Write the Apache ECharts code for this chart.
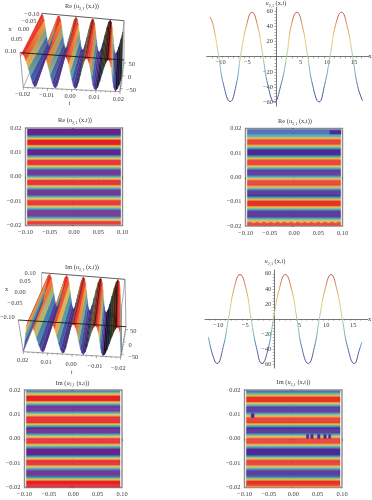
<!DOCTYPE html>
<html>
<head>
<meta charset="utf-8">
<style>
html,body{margin:0;padding:0;background:#fff}
#main{width:372px;height:500px;filter:blur(0.35px)}
</style>
<script src="https://cdn.jsdelivr.net/npm/echarts@6/dist/echarts.min.js"></script>
</head>
<body>
<div id="main"></div>
<script>
// line curves
var reLineX = [-12.4,-11.8,-10.8,-9.8,-8.6,-7.5,-6.6,-5.5,-4.5,-3.5,-2.5,-1.5,-0.3,0.9,2,2.9,3.94,4.9,5.9,6.9,8.1,9.1,10.2,11.2,12.3,13.3,14.4,15.3,16.25];
var reLineU = [52.5,42,3,-38,-59,-38,3,42,58.5,42,3,-38,-59.5,-38,0,42,58.5,42,3,-38,-59.5,-38,3,42,58.5,42,0,-38,-58];
var imLineX = [-12.2,-11.4,-10.6,-9.5,-8.5,-7.4,-6.36,-5.3,-4.3,-3.3,-2.3,-1.1,-0.1,1,2.04,3.1,4.2,5.1,6.3,7.4,8.4,9.5,10.5,11.5,12.6,13.6,14.8,15.8,16.2];
var imLineU = [-24,-48,-59,-38,0,42,59,42,0,-38,-59,-38,3,42,59,42,0,-38,-59,-38,3,42,59,42,0,-38,-59,-40,-31];
var lineXLabels = [-10,-5,5,10,15];
var lineYLabels = [-60,-40,-20,20,40,60];

// contour stripes top to bottom, 0 red .. 6 purple
var contourRe1 = [6,6,6,6,6,6,5,4,3,2,1,0,0,0,0,0,1,2,3,4,5,6,6,6,6,6,5,4,3,2,1,0,0,0,0,0,1,2,3,4,5,6,6,6,6,6,5,4,3,2,1,0,0,0,0,0,1,2,3,4,5,6,6,6,6,6,5,4,3,2,1,0,0,0,0,0,1,2,3,4,5,6,6,6,6,6,6,5,4,3,2,1,0,0,0];
var contourRe2 = [5,5,5,5,5,4,4,3,2,1,0,0,0,0,0,1,2,3,4,5,6,6,6,6,6,5,4,3,2,1,0,0,0,0,0,1,2,3,4,5,6,6,6,6,6,5,4,3,2,1,0,0,0,0,0,1,2,3,4,5,6,6,6,6,6,5,4,3,2,1,0,0,0,0,0,1,2,3,4,5,6,6,6,6,6,6,5,4,3,2,1,0,0,0];
var contourIm1 = [5,4,3,2,1,0,0,0,0,0,1,2,3,4,5,6,6,6,6,6,5,4,3,2,1,0,0,0,0,0,0,1,2,3,4,5,6,6,6,6,6,5,4,3,2,1,0,0,0,0,0,1,2,3,4,5,6,6,6,6,6,6,5,4,3,2,1,0,0,0,0,0,1,2,3,4,5,6,6,6,6,6,5,4,3,2,1,0,0,0,0,0,0];
var contourIm2 = [5,5,4,3,2,1,0,0,0,0,0,1,2,3,4,5,6,6,6,6,6,5,4,3,2,1,0,0,0,0,0,1,2,3,4,5,6,6,6,6,6,5,4,3,2,1,0,0,0,0,0,1,2,3,4,5,6,6,6,6,6,6,5,4,3,2,1,0,0,0,0,0,1,2,3,4,5,6,6,6,6,6,5,4,3,2,1,0,0,0,0,0,1];
// odd patches inside the contours: x0, x1, t0, t1, level
var patchesRe2 = [[0.074,0.097,0.0192,0.0177,6],[-0.086,-0.08,-0.0176,-0.0187,2],[-0.072,-0.066,-0.0176,-0.0187,2],[-0.058,-0.052,-0.0176,-0.0187,2],[-0.044,-0.038,-0.0176,-0.0187,2],[-0.03,-0.024,-0.0176,-0.0187,2],[-0.016,-0.01,-0.0176,-0.0187,2],[-0.002,0.004,-0.0176,-0.0187,2],[0.012,0.018,-0.0176,-0.0187,2],[0.026,0.032,-0.0176,-0.0187,2],[0.04,0.046,-0.0176,-0.0187,2],[0.054,0.06,-0.0176,-0.0187,2],[0.068,0.074,-0.0176,-0.0187,2],[0.082,0.088,-0.0176,-0.0187,2]];
var patchesIm2 = [[-0.0865,-0.08,0.01035,0.00865,6],[0.027,0.032,0.0018,0.0001,6],[0.0355,0.041,0.0018,0.0001,6],[0.0496,0.055,0.0018,0.0001,6],[0.0624,0.068,0.0018,0.0001,6],[0.0723,0.077,0.0018,0.0001,6]];

// 3d surfaces: u along the back and the front edge, rows left to right
var surfReBack = [59,54,36,9,-20,-45,-58,-55,-38,-12,18,43,57,57,43,18,-12,-38,-55,-59,-50,-29,0,29,50,59,53,34,6,-23,-47,-58,-54,-36,-9,20,45,58,56,41,15,-15,-41,-56,-59,-49,-26,3,31,52,59,52,31,3,-26,-49,-59,-53,-34,-6,22];
var surfReFront = [48,59,54,36,9,-20,-45,-58,-55,-38,-12,18,43,57,57,43,18,-12,-38,-55,-59,-50,-29,0,29,50,59,53,34,6,-23,-47,-58,-54,-36,-9,20,45,58,56,41,15,-15,-41,-56,-59,-49,-26,3,31,52,59,52,31,3,-26,-49,-59,-53,-34,-6];
var surfImBack = [-56,-41,-15,15,41,56,58,45,20,-9,-36,-54,-59,-49,-26,3,31,52,59,52,31,3,-26,-49,-59,-53,-34,-6,23,47,58,54,36,9,-20,-45,-58,-55,-38,-12,18,43,57,57,43,18,-12,-38,-55,-59,-50,-29,0,29,50,59,53,34,6,-23,-47];
var surfImFront = [-58,-45,-20,9,36,54,59,48,26,-3,-31,-52,-59,-52,-31,-3,26,48,59,54,36,9,-20,-45,-58,-56,-41,-15,15,41,56,58,45,20,-9,-36,-54,-59,-49,-26,3,31,52,59,52,31,3,-26,-49,-59,-54,-36,-9,20,45,58,56,41,15,-15,-41];

var chart3dLabelsX1 = ['−0.10','−0.05','0.00','0.05','0.10'];
var chart3dLabelsX2 = ['0.10','0.05','0.00','−0.05','−0.10'];
var chart3dLabelsT1 = ['−0.02','−0.01','0.00','0.01','0.02'];
var chart3dLabelsT2 = ['0.02','0.01','0.00','−0.01','−0.02'];
var chart3dLabelsU = ['50','0','−50'];

var contourColorsLeft = ['#e5222a','#f08a35','#dcc455','#84b97c','#3f9fb4','#3d62ad','#66268c'];
var contourColorsRight = ['#e6342a','#ef8a35','#dcc055','#84b97c','#3f9fb4','#3d62ad','#4e2a96'];
var heightStops = [[60,[226,30,38]],[35,[240,110,45]],[18,[225,190,85]],[5,[150,175,120]],[-12,[75,150,170]],[-35,[60,90,170]],[-60,[85,35,130]]];
var serif = '"Liberation Serif", "DejaVu Serif", serif';
var textColor = '#3a3a3a';
var tickFont = 6.4;

var myChart = echarts.init(document.getElementById('main'), null, {renderer:'canvas'});

function heightColor(u, dark) {
  var c = heightStops[heightStops.length-1][1];
  for (var i=0; i<heightStops.length-1; i++) {
    var a = heightStops[i], b = heightStops[i+1];
    if (u <= a[0] && u >= b[0]) {
      var f = (a[0]-u)/(a[0]-b[0]);
      c = [a[1][0]+(b[1][0]-a[1][0])*f, a[1][1]+(b[1][1]-a[1][1])*f, a[1][2]+(b[1][2]-a[1][2])*f];
      break;
    }
  }
  if (u > 60) c = heightStops[0][1];
  return 'rgb('+Math.round(c[0]*(1-dark))+','+Math.round(c[1]*(1-dark))+','+Math.round(c[2]*(1-dark))+')';
}

function fmtTick(digits) {
  return function (val) {
    var s = Math.abs(val).toFixed(digits);
    return val < -1e-9 ? '−'+s : s;
  };
}

// box corners in px: t top, b bottom, B back, F front, L left, R right
function project(box, fx, ft, u) {
  var fu = (u + box.uMax)/(2*box.uMax);
  function mix(p, q, f) { return [p[0]+(q[0]-p[0])*f, p[1]+(q[1]-p[1])*f]; }
  var top = mix(mix(box.tBL,box.tBR,ft), mix(box.tFL,box.tFR,ft), fx);
  var bot = mix(mix(box.bBL,box.bBR,ft), mix(box.bFL,box.bFR,ft), fx);
  return mix(bot, top, fu);
}

function surfaceSeries(box, back, front) {
  var rows = [];
  for (var i=back.length-2; i>=0; i--) rows.push([i]);
  return {
    type:'custom',
    coordinateSystem:'none',
    silent:true,
    z:3,
    data:rows,
    renderItem:function (params, api) {
      var i = api.value(0);
      var n = back.length-1;
      var a = project(box,0,i/n,back[i]);
      var b = project(box,0,(i+1)/n,back[i+1]);
      var c = project(box,1,(i+1)/n,front[i+1]);
      var d = project(box,1,i/n,front[i]);
      // rising faces are the underside, they get darker toward the right
      var rise = front[i+1] > front[i];
      var dark = rise ? Math.min(0.7,(i/n)*(i/n)*1.1) : 0;
      var fill = new echarts.graphic.LinearGradient(a[0],a[1],d[0],d[1],[
        {offset:0,color:heightColor((back[i]+back[i+1])/2,dark)},
        {offset:1,color:heightColor((front[i]+front[i+1])/2,dark)}
      ],true);
      return {type:'polygon',shape:{points:[a,b,c,d]},style:{fill:fill,stroke:fill,lineWidth:0.4}};
    }
  };
}

function line2(p, q, color, w, z) {
  return {type:'line',silent:true,z:z,shape:{x1:p[0],y1:p[1],x2:q[0],y2:q[1]},style:{stroke:color,lineWidth:w}};
}

function label(txt, x, y, align) {
  return {type:'text',silent:true,z:8,x:x,y:y,style:{text:txt,fill:textColor,font:tickFont+'px '+serif,align:align||'center',verticalAlign:'middle'}};
}

function richLabel(prefix, suffix, x, y) {
  return {type:'text',silent:true,z:8,x:x,y:y,style:{
    text:'{n|'+prefix+'}{i|u}{s|2,1}{n|'+suffix+'}',
    align:'center',verticalAlign:'middle',
    rich:{
      n:{font:tickFont+'px '+serif,fill:textColor,lineHeight:8},
      i:{font:'italic '+tickFont+'px '+serif,fill:textColor,lineHeight:8},
      s:{font:'4.2px '+serif,fill:textColor,lineHeight:8,verticalAlign:'bottom'}
    }
  }};
}

function boxGraphics(box) {
  var out = [];
  var grey = '#7a7a7a';
  out.push(line2(box.tBL,box.tBR,'#333',0.8,1));
  out.push(line2(box.tBR,box.tFR,grey,0.7,1));
  out.push(line2(box.tBR,box.bBR,grey,0.6,1));
  out.push(line2(box.tBL,box.bBL,grey,0.6,1));
  out.push(line2(box.bBL,box.bBR,grey,0.6,1));
  out.push(line2(box.bBL,box.bFL,grey,0.6,1));
  out.push(line2(box.bBR,box.bFR,grey,0.6,1));
  out.push(line2(box.bFL,box.bFR,grey,0.7,1));
  out.push(line2(box.tFL,box.bFL,grey,0.7,1));
  out.push(line2(box.tFR,box.bFR,grey,0.8,6));
  out.push(line2(box.tFL,box.tFR,'#1a1a1a',0.9,6));
  // ticks on the t axis and the u axis
  for (var k=0; k<=20; k++) {
    var p = project(box,1,k/20,-box.uMax);
    out.push(line2(p,[p[0],p[1]+(k%5===0?2.5:1.2)],'#555',0.5,6));
  }
  for (var v=-50; v<=50; v+=10) {
    var q = project(box,1,1,v);
    out.push(line2(q,[q[0]+(v%50===0?2.5:1.2),q[1]],'#555',0.5,6));
  }
  return out;
}

var boxRe = {uMax:62,tBL:[41.7,13.3],tBR:[124,20.7],tFL:[20,52.7],tFR:[124,60],bBL:[41,47],bBR:[120.7,55],bFL:[23.3,87.3],bFR:[120,91.7]};
var boxIm = {uMax:62,tBL:[41.7,272.7],tBR:[125,279.3],tFL:[18.3,320],tFR:[126,326.7],bBL:[41.7,306.7],bBR:[120.7,315],bFL:[23.3,351.7],bFR:[120.7,357.3]};

var lineGrids = [
  {left:206.7,top:7.3,width:162,height:98.8},
  {left:205,top:270,width:162.7,height:98}
];
var contourGrids = [
  {left:25.5,top:128,width:97,height:97.5},
  {left:245.5,top:128.5,width:97,height:97.5},
  {left:24.5,top:390,width:97.5,height:97.5},
  {left:244.5,top:390,width:97.5,height:97.5}
];
var gridsAll = lineGrids.concat(contourGrids);
var grids = gridsAll.map(function (g, i) {
  var o = {left:g.left,top:g.top,width:g.width,height:g.height};
  if (i >= 2) { o.show = true; o.borderColor = '#8c8c8c'; o.borderWidth = 1.4; o.backgroundColor = '#fff'; }
  return o;
});

var xAxes = [], yAxes = [], series = [];

function lineAxes(idx, xMin, xMax) {
  var xTicks = [], yTicks = [];
  for (var a=-12; a<=16; a++) xTicks.push(a);
  for (var b=-60; b<=60; b+=4) yTicks.push(b);
  // onZero leaves the labels on the grid edge, so the axes are moved with offset
  var g = lineGrids[idx];
  xAxes.push({
    type:'value',gridIndex:idx,min:xMin,max:xMax,position:'bottom',offset:-g.height/2,splitLine:{show:false},
    axisLine:{onZero:false,lineStyle:{color:'#555',width:0.8}},
    axisTick:{length:1.6,customValues:xTicks,lineStyle:{color:'#555',width:0.5}},
    axisLabel:{customValues:lineXLabels,formatter:fmtTick(0),fontFamily:serif,fontSize:tickFont,color:textColor,margin:3,padding:[0,4,0,0],hideOverlap:false}
  });
  yAxes.push({
    type:'value',gridIndex:idx,min:-65,max:65,position:'left',offset:g.width*xMin/(xMax-xMin),splitLine:{show:false},
    axisLine:{onZero:false,lineStyle:{color:'#555',width:0.8}},
    axisTick:{length:1.6,customValues:yTicks,lineStyle:{color:'#555',width:0.5}},
    axisLabel:{customValues:lineYLabels,formatter:fmtTick(0),fontFamily:serif,fontSize:tickFont,color:textColor,margin:3,hideOverlap:false}
  });
}

function zipPoints(xs, ys) {
  var out = [];
  for (var i=0; i<xs.length; i++) out.push([xs[i],ys[i]]);
  return out;
}

lineAxes(0,-13,17.4);
lineAxes(1,-12.84,17.3);

function contourAxes(idx) {
  xAxes.push({
    type:'value',gridIndex:idx,min:-0.1,max:0.1,interval:0.05,splitLine:{show:false},
    axisLine:{show:false},
    axisTick:{length:2.4,lineStyle:{color:'#555',width:0.6}},
    minorTick:{show:true,splitNumber:5,length:1.2,lineStyle:{color:'#555',width:0.5}},
    axisLabel:{formatter:fmtTick(2),fontFamily:serif,fontSize:tickFont,color:textColor,margin:4,hideOverlap:false,showMinLabel:true,showMaxLabel:true}
  });
  yAxes.push({
    type:'value',gridIndex:idx,min:-0.02,max:0.02,interval:0.01,splitLine:{show:false},
    axisLine:{show:false},
    axisTick:{length:2.4,lineStyle:{color:'#555',width:0.6}},
    minorTick:{show:true,splitNumber:5,length:1.2,lineStyle:{color:'#555',width:0.5}},
    axisLabel:{formatter:fmtTick(2),fontFamily:serif,fontSize:tickFont,color:textColor,margin:4,hideOverlap:false,showMinLabel:true,showMaxLabel:true}
  });
}

function contourSeries(idx, rows, tTop, tBot, patches, colors) {
  var cells = [];
  for (var i=0; i<rows.length; i++) {
    var t0 = tTop+(tBot-tTop)*i/rows.length;
    var t1 = tTop+(tBot-tTop)*(i+1)/rows.length;
    cells.push([-0.096,0.096,t0,t1,rows[i]]);
  }
  cells = cells.concat(patches);
  return {
    type:'custom',xAxisIndex:idx,yAxisIndex:idx,silent:true,clip:false,
    data:cells,
    encode:{x:[0,1],y:[2,3]},
    renderItem:function (params, api) {
      var a = api.coord([api.value(0),api.value(2)]);
      var b = api.coord([api.value(1),api.value(3)]);
      var col = colors[api.value(4)];
      return {type:'rect',shape:{x:a[0],y:a[1],width:b[0]-a[0],height:b[1]-a[1]},style:{fill:col,stroke:col,lineWidth:0.3}};
    }
  };
}

for (var g=2; g<6; g++) contourAxes(g);

series.push({type:'line',xAxisIndex:0,yAxisIndex:0,smooth:0.5,showSymbol:false,silent:true,lineStyle:{width:1},data:zipPoints(reLineX,reLineU)});
series.push({type:'line',xAxisIndex:1,yAxisIndex:1,smooth:0.5,showSymbol:false,silent:true,lineStyle:{width:1},data:zipPoints(imLineX,imLineU)});
series.push(contourSeries(2,contourRe1,0.0196,-0.0196,[],contourColorsLeft));
series.push(contourSeries(3,contourRe2,0.0196,-0.0198,patchesRe2,contourColorsRight));
series.push(contourSeries(4,contourIm1,0.0197,-0.0199,[],contourColorsLeft));
series.push(contourSeries(5,contourIm2,0.0197,-0.0199,patchesIm2,contourColorsRight));
series.push(surfaceSeries(boxRe,surfReBack,surfReFront));
series.push(surfaceSeries(boxIm,surfImBack,surfImFront));

var graphics = boxGraphics(boxRe).concat(boxGraphics(boxIm));
graphics.push(richLabel('Re (',' (x,t))',82,6.7));
graphics.push(richLabel('Re (',' (x,t))',75,120.5));
graphics.push(richLabel('Re (',' (x,t))',295,121.5));
graphics.push(richLabel('Im (',' (x,t))',82,267.7));
graphics.push(richLabel('Im (',' (x,t))',72.5,383.3));
graphics.push(richLabel('Im (',' (x,t))',293.5,382.5));
graphics.push(richLabel('',' (x,t)',276,3.6));
graphics.push(richLabel('',' (x,t)',275,261.7));
graphics.push(label('x',370,56.7));
graphics.push(label('x',369.5,319));
// 3d tick labels, px
var posRe = [[32,14],[29,21.7],[23.5,29],[16.7,39.3],[10.7,51]];
var posIm = [[30,273.3],[25,281],[20,292.3],[15,303.3],[7.3,317.3]];
for (var n=0; n<5; n++) {
  graphics.push(label(chart3dLabelsX1[n],posRe[n][0],posRe[n][1]));
  graphics.push(label(chart3dLabelsX2[n],posIm[n][0],posIm[n][1]));
  graphics.push(label(chart3dLabelsT1[n],[22.7,46.7,70,94,118.3][n],[94,95,96.7,97.7,99][n]));
  graphics.push(label(chart3dLabelsT2[n],[22.7,46,71,95,118.3][n],[360.7,362.3,364,366,368][n]));
}
graphics.push(label('x',10,29,'center'));
graphics.push(label('x',6.7,289.3,'center'));
graphics.push(label('t',69.5,103.5));
graphics.push(label('t',71.7,372.7));
graphics.push(label(chart3dLabelsU[0],131.7,64.3));
graphics.push(label(chart3dLabelsU[1],129.5,77.3));
graphics.push(label(chart3dLabelsU[2],131,90.7));
graphics.push(label(chart3dLabelsU[0],133.3,331));
graphics.push(label(chart3dLabelsU[1],130,345));
graphics.push(label(chart3dLabelsU[2],133.3,357.7));

var lineHue = ['#5a3f98','#4c6fb0','#6fb3c4','#a9d3a0','#e0d27e','#e09a58','#b84a4a'];
var option = {
  animation:false,
  backgroundColor:'#fff',
  grid:grids,
  xAxis:xAxes,
  yAxis:yAxes,
  visualMap:[
    {type:'continuous',show:false,seriesIndex:[0,1],dimension:1,min:-60,max:60,inRange:{color:lineHue}}
  ],
  series:series,
  graphic:{elements:graphics}
};
myChart.setOption(option);
window.addEventListener('resize', function () { myChart.resize(); });
</script>
</body>
</html>
